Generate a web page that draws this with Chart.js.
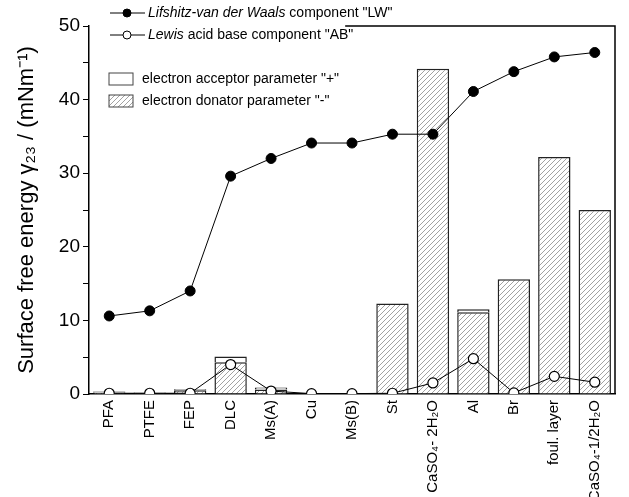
<!DOCTYPE html>
<html><head><meta charset="utf-8">
<script src="https://cdn.jsdelivr.net/npm/chart.js@4/dist/chart.umd.min.js"></script>
<style>html,body{margin:0;padding:0;background:#fff}#wrap{width:629px;height:497px;position:relative}</style>
</head><body><div id="wrap"><canvas id="c"></canvas></div>
<script>
const categories = ["PFA","PTFE","FEP","DLC","Ms(A)","Cu","Ms(B)","St","CaSO\u2084- 2H\u2082O","Al","Br","foul. layer","CaSO\u2084-1/2H\u2082O"];
const lwValues = [10.6, 11.3, 14.0, 29.6, 32.0, 34.1, 34.1, 35.3, 35.3, 41.1, 43.8, 45.8, 46.4];
const abValues = [0.1, 0.1, 0.1, 4.0, 0.4, 0.05, 0.05, 0.1, 1.5, 4.8, 0.15, 2.4, 1.6];
const donorValues = [0.2, 0.15, 0.5, 4.3, 0.6, 0, 0, 12.3, 44.2, 11.1, 15.6, 32.2, 25.0];
const acceptorValues = [0.15, 0.05, 0.15, 0.8, 0.3, 0, 0, 0, 0, 0.4, 0, 0, 0];
const yTicks = [0, 10, 20, 30, 40, 50];

const FONT = "'Liberation Sans', Arial, sans-serif";

function hatch() {
  const s = 5, cv = document.createElement('canvas');
  cv.width = s; cv.height = s;
  const g = cv.getContext('2d');
  g.fillStyle = '#fff'; g.fillRect(0,0,s,s);
  g.strokeStyle = '#8a8a8a'; g.lineWidth = 0.8;
  g.beginPath();
  g.moveTo(0, s); g.lineTo(s, 0);
  g.moveTo(-1, 1); g.lineTo(1, -1);
  g.moveTo(s-1, s+1); g.lineTo(s+1, s-1);
  g.stroke();
  return document.getElementById('c').getContext('2d').createPattern(cv, 'repeat');
}
const hatchPattern = hatch();

const legendPlugin = {
  id: 'customLegend',
  afterDraw(chart) {
    const ctx = chart.ctx, a = chart.chartArea;
    ctx.save();
    ctx.strokeStyle = '#000'; ctx.lineWidth = 1.5;
    ctx.beginPath();
    ctx.moveTo(a.left + 0.487 * (a.right - a.left), a.top);
    ctx.lineTo(a.right, a.top);
    ctx.lineTo(a.right, a.bottom);
    ctx.stroke();

    const lx = 110;
    ctx.textBaseline = 'middle';
    ctx.fillStyle = '#000';
    const rows = [
      {y: 13, fill: '#000', it: 'Lifshitz-van der Waals', rest: ' component "LW"'},
      {y: 35, fill: '#fff', it: 'Lewis', rest: ' acid base component "AB"'}
    ];
    rows.forEach(r => {
      ctx.strokeStyle = '#000'; ctx.lineWidth = 1;
      ctx.beginPath(); ctx.moveTo(lx, r.y); ctx.lineTo(lx + 35, r.y); ctx.stroke();
      ctx.beginPath(); ctx.arc(lx + 17, r.y, 4, 0, Math.PI * 2);
      ctx.fillStyle = r.fill; ctx.fill(); ctx.stroke();
      ctx.fillStyle = '#000';
      ctx.font = 'italic 14px ' + FONT;
      ctx.fillText(r.it, lx + 38, r.y);
      const w = ctx.measureText(r.it).width;
      ctx.font = '14px ' + FONT;
      ctx.fillText(r.rest, lx + 38 + w, r.y);
    });
    const boxes = [
      {y: 79, fill: '#fff', t: 'electron acceptor parameter "+"'},
      {y: 101, fill: hatchPattern, t: 'electron donator parameter "-"'}
    ];
    boxes.forEach(b => {
      ctx.fillStyle = b.fill;
      ctx.fillRect(109, b.y - 6, 24, 12);
      ctx.strokeStyle = '#444'; ctx.lineWidth = 1;
      ctx.strokeRect(109, b.y - 6, 24, 12);
      ctx.fillStyle = '#000';
      ctx.font = '14px ' + FONT;
      ctx.fillText(b.t, 142, b.y);
    });
    ctx.restore();
  }
};

new Chart(document.getElementById('c'), {
  data: {
    labels: categories,
    datasets: [
      {type: 'line', label: 'LW', data: lwValues, borderColor: '#000', borderWidth: 1,
       pointRadius: 5, pointBackgroundColor: '#000', pointBorderColor: '#000', pointBorderWidth: 1,
       stack: 'lw', order: 0, tension: 0},
      {type: 'line', label: 'AB', data: abValues, borderColor: '#000', borderWidth: 1,
       pointRadius: 5, pointBackgroundColor: '#fff', pointBorderColor: '#000', pointBorderWidth: 1.2,
       stack: 'ab', order: 0, tension: 0},
      {type: 'bar', label: 'donator', data: donorValues, backgroundColor: hatchPattern,
       borderColor: '#222', borderWidth: 1.5, borderSkipped: 'bottom', stack: 'bars', order: 1,
       barPercentage: 0.8, categoryPercentage: 1.0},
      {type: 'bar', label: 'acceptor', data: acceptorValues, backgroundColor: '#fff',
       borderColor: '#222', borderWidth: 1.5, borderSkipped: 'bottom', stack: 'bars', order: 2,
       barPercentage: 0.8, categoryPercentage: 1.0}
    ]
  },
  options: {
    responsive: true, maintainAspectRatio: false, animation: false,
    layout: {padding: {left: 0, right: 14, top: 26, bottom: 0}},
    plugins: {legend: {display: false}, tooltip: {enabled: false}},
    scales: {
      x: {
        offset: true,
        grid: {display: false, drawTicks: false},
        border: {display: true, color: '#000', width: 1.5},
        ticks: {autoSkip: false, maxRotation: 90, minRotation: 90, color: '#000',
                font: {family: FONT, size: 15}, padding: 6},
        afterFit(s) { s.height = 103; }
      },
      y: {
        stacked: true, min: 0, max: 50,
        grid: {display: true, drawOnChartArea: false, drawTicks: true, tickLength: 6,
               tickColor: '#000', tickWidth: 1},
        border: {display: true, color: '#000', width: 1.5},
        ticks: {stepSize: 5, color: '#000', font: {family: FONT, size: 19}, padding: 3,
                callback: v => yTicks.includes(v) ? String(v) : ''},
        title: {display: true, text: 'Surface free energy \u03b3\u2082\u2083 / (mNm\u207b\u00b9)',
                color: '#000', font: {family: FONT, size: 22}, padding: {top: 14, bottom: 0}},
        afterFit(s) { s.width = 89; }
      }
    }
  },
  plugins: [legendPlugin]
});
</script></body></html>
